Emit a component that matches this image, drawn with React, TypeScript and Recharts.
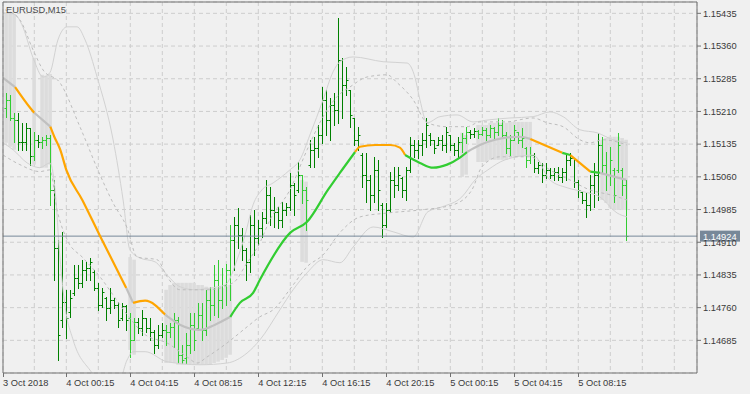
import React from 'react';
import { ComposedChart, Bar, Line, XAxis, YAxis, CartesianGrid, ReferenceLine } from 'recharts';

// all prices below are stored in points (1 point = 0.00001)
const PT = 100000;

const symbolTitle = 'EURUSD,M15';
const lastPrice = 1.14924;

const barOpen = [115218,115237,115195,115191,115140,115140,115172,115108,115145,115140,115145,115149,115030,114897,114732,114773,114750,114794,114828,114817,114847,114851,114842,114805,114766,114783,114760,114778,114766,114737,114764,114737,114686,114727,114714,114737,114714,114705,114675,114698,114709,114705,114716,114732,114652,114645,114675,114721,114714,114744,114709,114778,114766,114824,114778,114812,114847,114916,114950,114927,114893,114865,114950,114920,114943,114966,115019,114984,114980,114961,114984,114991,115042,115030,115065,115030,115088,115122,115127,115156,115237,115191,115225,115214,115328,115271,115260,115195,115145,115110,115065,115053,115019,115076,114996,114950,114984,115053,115042,115058,115030,115076,115133,115122,115133,115145,115156,115145,115133,115145,115133,115156,115133,115122,115140,115149,115163,115159,115166,115159,115168,115156,115172,115163,115179,115156,115127,115145,115163,115145,115127,115099,115110,115081,115088,115065,115076,115065,115072,115060,115072,115099,115104,115049,115026,115007,114996,115042,115065,115133,115088,115065,115076,115076,115076,115042];
const barHigh = [115253,115248,115207,115207,115184,115184,115172,115163,115156,115152,115156,115156,115053,114916,114934,114801,114801,114858,114858,114870,114865,114874,114847,114817,114805,114785,114805,114783,114773,114771,114766,114748,114737,114737,114755,114737,114737,114709,114721,114725,114721,114725,114748,114739,114675,114702,114748,114748,114771,114771,114801,114808,114858,114870,114851,114860,114950,114968,114989,114943,114897,114973,114984,114961,114980,115053,115037,115014,114991,115003,115000,115069,115046,115094,115065,115037,115145,115152,115179,115266,115260,115241,115253,115425,115333,115312,115260,115195,115175,115115,115115,115065,115106,115099,115000,115000,115072,115083,115083,115060,115083,115152,115145,115145,115161,115195,115161,115145,115152,115156,115175,115156,115138,115152,115161,115175,115168,115172,115168,115175,115172,115179,115175,115195,115191,115163,115156,115179,115163,115172,115129,115129,115115,115094,115092,115092,115081,115081,115083,115081,115110,115115,115104,115053,115026,115023,115065,115092,115161,115152,115117,115129,115081,115161,115081,115053];
const barLow = [115198,115191,115140,115122,115122,115122,115088,115099,115129,115127,115133,114996,114824,114640,114716,114691,114739,114789,114805,114808,114824,114824,114801,114755,114762,114732,114748,114760,114716,114732,114709,114647,114686,114702,114698,114705,114686,114656,114668,114693,114675,114693,114670,114633,114633,114633,114656,114663,114709,114686,114698,114732,114744,114739,114760,114766,114778,114847,114897,114870,114824,114842,114881,114904,114922,114955,114950,114945,114943,114945,114973,114984,114973,115026,115000,114938,115083,115083,115106,115138,115156,115145,115179,115184,115195,115248,115175,115133,115122,115037,115003,114984,115003,114984,114922,114945,114980,115014,115030,115014,115007,115072,115106,115104,115110,115129,115133,115115,115133,115122,115117,115122,115110,115104,115117,115138,115149,115152,115149,115156,115145,115152,115149,115156,115149,115115,115110,115145,115138,115129,115083,115092,115072,115069,115049,115058,115058,115053,115053,115049,115053,115088,115037,115014,115000,114968,114984,114991,115007,115072,115030,115042,115003,115072,115019,114916];
const barClose = [115237,115195,115191,115140,115140,115172,115108,115145,115140,115145,115149,115030,114897,114698,114773,114737,114783,114828,114817,114847,114851,114865,114805,114766,114796,114760,114778,114766,114732,114764,114732,114686,114727,114714,114737,114714,114705,114675,114698,114709,114705,114716,114732,114652,114640,114675,114721,114686,114744,114709,114778,114766,114824,114778,114812,114847,114916,114950,114927,114893,114865,114950,114920,114943,114966,115019,114984,114980,114961,114984,114991,115042,115019,115065,115030,115007,115122,115127,115156,115237,115191,115225,115214,115328,115271,115282,115202,115145,115156,115065,115053,115019,115076,115030,114950,114984,115053,115042,115065,115030,115076,115133,115122,115133,115145,115179,115145,115127,115145,115133,115163,115133,115122,115140,115149,115163,115159,115166,115159,115168,115156,115172,115163,115179,115156,115127,115145,115168,115145,115149,115099,115110,115081,115088,115065,115076,115065,115072,115060,115072,115099,115104,115049,115030,115007,114996,115042,115065,115133,115088,115065,115099,115019,115133,115042,114924];

// squeeze histogram (bar index, top, bottom)
const shadeIdx = [0,1,2,7,9,10,11,31,32,40,41,42,43,44,45,46,47,48,49,50,51,52,53,54,55,56,74,75,114,115,118,119,120,121,122,123,124,125,126,127,128,129,130,131,149,150,151,152,153,154,155];
const shadeTop = [115436,115434,115432,115333,115294,115292,115296,114876,114870,114801,114812,114817,114817,114817,114817,114817,114817,114812,114812,114808,114805,114805,114805,114805,114808,114812,115053,115049,115161,115156,115179,115179,115179,115184,115184,115184,115184,115184,115186,115186,115186,115186,115186,115186,115145,115149,115152,115152,115152,115149,115145];
const shadeBot = [115138,115129,115122,115088,115081,115081,115088,114663,114652,114633,114633,114633,114629,114629,114629,114629,114629,114629,114629,114629,114629,114633,114636,114640,114645,114652,114865,114863,115060,115065,115094,115094,115094,115099,115099,115099,115099,115099,115106,115106,115106,115106,115106,115106,115007,115000,114989,114984,114984,114984,114984];

// moving average vertices and the colour of the segment starting at each vertex
const maIdx = [-0.8,2.2,6,7,11,12,13.5,15,19,23.4,30,31.7,34.7,39.7,43.4,48.4,52.2,56,58.4,61.7,63.4,71,75.2,80.4,83.4,87.2,88.4,92.2,96,98.4,99.7,103.4,106.7,110.2,113.4,115.2,118.4,122.2,128.4,131,139,141,146,148.4,155];
const maVal = [115287,115266,115218,115207,115175,115152,115122,115076,115007,114925,114805,114771,114776,114744,114721,114709,114721,114739,114771,114794,114824,114932,114957,115030,115069,115117,115129,115133,115133,115127,115110,115092,115081,115088,115104,115117,115133,115145,115152,115147,115115,115110,115072,115069,115053];
const maState = ['flat','down','down','flat','down','down','down','down','down','down','flat','down','down','flat','flat','flat','flat','up','up','up','up','up','up','up','up','down','down','down','down','down','up','up','up','up','up','flat','flat','flat','flat','down','up','down','up','flat','flat'];

// bands: solid outer (upper / lower), dashed (upper / lower)
const usIdx = [-0.8,2.2,3.9,6.7,9.2,10.9,12.9,15.2,17.7,19.7,22.7,26.7,29.2,30.9,33.4,37.2,40.2,43.4,47.2,50.9,54.7,57.7,59.7,61.7,63.9,66.7,70.9,73.4,75.9,79.2,81.7,83.4,86.7,94.2,100.2,102.2,103.4,105.2,108.4,112.7,116.7,120.9,125.9,131.7,135.9,139.2,143.4,147.7,151.7,155.2];
const usVal = [115436,115432,115409,115333,115289,115299,115374,115404,115404,115374,115289,115145,115007,114893,114874,114865,114835,114808,114801,114805,114812,114870,114927,114996,115030,115046,115076,115099,115156,115237,115301,115324,115335,115324,115321,115287,115237,115184,115198,115202,115186,115191,115195,115198,115209,115198,115168,115161,115145,115138];
const udIdx = [-0.3,3.4,6.7,9.2,13.4,18.4,23.4,26.7,30.2,32.7,37.7,40.2,43.4,50.2,56.7,60.2,63.4,65.9,70.9,75.2,79.2,82.7,85.9,90.2,95.2,97.7,101.7,105.2,110.2,115.2,118.4,124.7,131.7,135.2,139.2,143.4,145.9,149.2,155.2];
const udVal = [115443,115420,115351,115305,115276,115175,115065,115000,114943,114876,114870,114831,114801,114801,114817,114863,114909,114961,115030,115122,115198,115244,115266,115289,115294,115276,115237,115184,115175,115175,115186,115186,115195,115184,115175,115145,115138,115145,115133];
const lsIdx = [-0.8,1.7,5.2,8.4,10.9,12.2,13.4,14.7,16.7,20.9,24.7,27.9,30.2,31.7,34.7,40.2,48.4,55.2,60.2,63.4,68.4,71.7,75.2,79.2,83.4,86.7,91.7,96.7,101.7,105.4,108.9,113.9,117.2,120.4,124.7,131.7,135.9,140.2,144.2,148.4,152.7,155.2];
const lsVal = [115138,115122,115092,115081,115092,115030,114876,114762,114686,114617,114583,114583,114640,114659,114659,114636,114629,114633,114656,114686,114755,114801,114840,114870,114863,114899,114945,114934,114922,114980,114991,115014,115053,115076,115099,115110,115053,115035,115026,115014,114977,114968];
const ldIdx = [-0.8,3.4,8.4,10.9,12.7,15.2,19.2,23.4,26.7,30.2,34.7,40.2,45.2,47.7,50.2,55.2,60.2,63.4,66.7,71.7,75.2,79.2,83.4,88.4,95.2,103.4,111.7,116.4,118.9,123.4,130.9,135.9,140.9,145.9,150.9,155.2];
const ldVal = [115110,115088,115072,115076,114984,114916,114874,114831,114789,114744,114698,114679,114647,114633,114647,114679,114716,114739,114755,114812,114854,114881,114932,114968,114977,114984,114996,115030,115083,115106,115106,115076,115053,115030,115019,115007];

const yTicks = [1.14685,1.1476,1.14835,1.1491,1.14985,1.1506,1.15135,1.1521,1.15285,1.1536,1.15435];
const xTickIdx = [-0.825,15,31,47,63,79,95,111,127,143];
const xTickLabels = ['3 Oct 2018','4 Oct 00:15','4 Oct 04:15','4 Oct 08:15','4 Oct 12:15','4 Oct 16:15','4 Oct 20:15','5 Oct 00:15','5 Oct 04:15','5 Oct 08:15'];
const gridIdx = [-0.825,7,15,23,31,39,47,55,63,71,79,87,95,103,111,119,127,135,143,151,159,167];

const X_MIN = -0.825;
const X_MAX = 172.675;
const Y_MIN = 1.146101;
const Y_MAX = 1.15461;

const FONT = '"Liberation Sans", Arial, sans-serif';
const TEXT = '#3a3a3a';
const FRAME = '#707070';

const rows = barOpen.map((o, k) => {
  const s = shadeIdx.indexOf(k);
  return {
    i: k,
    o,
    h: barHigh[k],
    l: barLow[k],
    c: barClose[k],
    inShade: s >= 0,
    hl: [barLow[k] / PT, barHigh[k] / PT],
    shade: s >= 0 ? [shadeBot[s] / PT, shadeTop[s] / PT] : null,
  };
});

const toLine = (idx: number[], val: number[]) => idx.map((i, k) => ({ i, v: val[k] / PT }));

const maColors: Record<string, string> = { flat: '#c0c0c0', down: '#ffa500', up: '#32cd32' };
// split the MA into runs of one colour
const maRuns: { color: string; pts: { i: number; v: number }[] }[] = [];
for (let k = 0; k < maIdx.length - 1; k++) {
  const st = maState[k];
  const last = maRuns[maRuns.length - 1];
  const p0 = { i: maIdx[k], v: maVal[k] / PT };
  const p1 = { i: maIdx[k + 1], v: maVal[k + 1] / PT };
  if (last && last.color === maColors[st] && k > 0 && maState[k - 1] === st) {
    last.pts.push(p1);
  } else {
    maRuns.push({ color: maColors[st], pts: [p0, p1] });
  }
}

const OhlcShape = (props: any) => {
  const { x, y, width, height, payload } = props;
  if (x == null || y == null || !payload) return null;
  const top = Math.min(y, y + height);
  const hgt = Math.abs(height);
  const cx = Math.round(x + width / 2) + 0.5;
  const span = payload.h - payload.l || 1;
  const yo = Math.round(top + ((payload.h - payload.o) / span) * hgt) + 0.5;
  const yc = Math.round(top + ((payload.h - payload.c) / span) * hgt) + 0.5;
  const color = payload.inShade ? '#32cd32' : '#008000';
  return (
    <g>
      <line x1={cx} x2={cx} y1={Math.round(top)} y2={Math.round(top + hgt) + 1} stroke={color} strokeWidth={1} />
      <line x1={cx - 2} x2={cx} y1={yo} y2={yo} stroke={color} strokeWidth={1} />
      <line x1={cx} x2={cx + 2} y1={yc} y2={yc} stroke={color} strokeWidth={1} />
    </g>
  );
};

const XTick = (props: any) => {
  const { x, y, payload } = props;
  const k = xTickIdx.indexOf(payload.value);
  if (k < 0) return null;
  const axisY = y - 5;
  const xx = Math.round(x) + 0.5;
  return (
    <g>
      <line x1={xx} x2={xx} y1={axisY} y2={axisY + 4} stroke={FRAME} strokeWidth={1} />
      <text x={x} y={y + 7.5} fill={TEXT} fontSize={9.3} fontFamily={FONT} textAnchor="start">
        {xTickLabels[k]}
      </text>
    </g>
  );
};

const PriceTag = (props: any) => {
  const vb = props.viewBox || {};
  const x = (vb.x ?? 0) + (vb.width ?? 0) + 3;
  const y = vb.y ?? 0;
  return (
    <g>
      <rect x={x} y={y - 5.5} width={40} height={11} fill="#778899" />
      <text x={x + 3} y={y + 3.5} fill="#ffffff" fontSize={9.3} fontFamily={FONT}>
        {lastPrice.toFixed(5)}
      </text>
    </g>
  );
};

export default function App() {
  return (
    <div style={{ position: 'absolute', left: 0, top: 0, width: 750, height: 394, background: '#f0f0f0' }}>
      <ComposedChart
        width={750}
        height={394}
        data={rows}
        margin={{ top: 2, right: 0, bottom: 0, left: 3 }}
      >
        <CartesianGrid stroke="#cdcdcd" strokeDasharray="4 3" />
        <XAxis
          dataKey="i"
          type="number"
          domain={[X_MIN, X_MAX]}
          allowDataOverflow
          ticks={gridIdx}
          interval={0}
          height={21}
          tickSize={4}
          tickMargin={1}
          tickLine={false}
          axisLine={{ stroke: FRAME }}
          tick={<XTick />}
        />
        <XAxis xAxisId="s" dataKey="i" type="number" domain={[X_MIN, X_MAX]} allowDataOverflow hide />
        <YAxis
          orientation="right"
          type="number"
          domain={[Y_MIN, Y_MAX]}
          allowDataOverflow
          ticks={yTicks}
          interval={0}
          width={53}
          tickSize={4}
          tickMargin={2}
          axisLine={{ stroke: FRAME }}
          tickLine={{ stroke: FRAME }}
          tick={{ fill: TEXT, fontSize: 9.3, fontFamily: FONT }}
          tickFormatter={(v: number) => v.toFixed(5)}
        />
        <Bar
          xAxisId="s"
          dataKey={(d: any) => d.shade}
          fill="#dcdcdc"
          barSize={5}
          isAnimationActive={false}
        />
        <Line data={toLine(usIdx, usVal)} dataKey="v" type="monotone" stroke="#d2d2d2" strokeWidth={1} dot={false} isAnimationActive={false} />
        <Line data={toLine(lsIdx, lsVal)} dataKey="v" type="monotone" stroke="#d2d2d2" strokeWidth={1} dot={false} isAnimationActive={false} />
        <Line data={toLine(udIdx, udVal)} dataKey="v" type="monotone" stroke="#bdbdbd" strokeWidth={1} strokeDasharray="3 3" dot={false} isAnimationActive={false} />
        <Line data={toLine(ldIdx, ldVal)} dataKey="v" type="monotone" stroke="#bdbdbd" strokeWidth={1} strokeDasharray="3 3" dot={false} isAnimationActive={false} />
        <ReferenceLine y={lastPrice} stroke="#778899" strokeWidth={1} label={<PriceTag />} />
        <Bar dataKey="hl" barSize={4} shape={<OhlcShape />} isAnimationActive={false} />
        {maRuns.map((r, k) => (
          <Line
            key={'ma' + k}
            data={r.pts}
            dataKey="v"
            type="monotone"
            stroke={r.color}
            strokeWidth={2.2}
            dot={false}
            isAnimationActive={false}
          />
        ))}
        <ReferenceLine x={X_MIN} stroke={FRAME} strokeWidth={1} />
        <ReferenceLine y={Y_MAX} stroke={FRAME} strokeWidth={1} />
      </ComposedChart>
      <svg width={750} height={394} style={{ position: 'absolute', left: 0, top: 0, pointerEvents: 'none' }}>
        <text x={6} y={12.7} fill="#4a4a4a" fontSize={9.3} fontFamily={FONT}>
          {symbolTitle}
        </text>
      </svg>
    </div>
  );
}
